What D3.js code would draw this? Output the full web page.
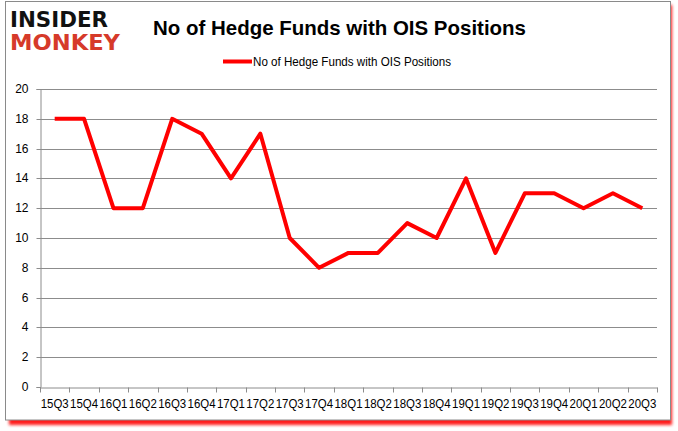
<!DOCTYPE html>
<html><head><meta charset="utf-8">
<script src="https://cdn.jsdelivr.net/npm/d3@7"></script>
<style>body{margin:0;background:#fff}svg{display:block}</style>
</head><body>
<svg id="c" width="678" height="431"></svg>
<script>
const categories = ["15Q3","15Q4","16Q1","16Q2","16Q3","16Q4","17Q1","17Q2","17Q3","17Q4","18Q1","18Q2","18Q3","18Q4","19Q1","19Q2","19Q3","19Q4","20Q1","20Q2","20Q3"];
const values = [18,18,12,12,18,17,14,17,10,8,9,9,11,10,14,9,13,13,12,13,12];
const yTicks = [0,2,4,6,8,10,12,14,16,18,20];
const seriesName = "No of Hedge Funds with OIS Positions";
const titleText = "No of Hedge Funds with OIS Positions";

const svg = d3.select("#c");
const font = "'Liberation Sans', Arial, sans-serif";

// shadow + frame
const defs = svg.append("defs");
const f = defs.append("filter").attr("id","blur").attr("x","-5%").attr("y","-5%").attr("width","110%").attr("height","110%");
f.append("feGaussianBlur").attr("stdDeviation",1.5);
svg.append("rect").attr("x",9).attr("y",5).attr("width",663).attr("height",420).attr("fill","#ff1a1a").attr("filter","url(#blur)");
svg.append("rect").attr("x",5.5).attr("y",1.5).attr("width",665).attr("height",418.5).attr("fill","#fff").attr("stroke","#8a8a8a").attr("stroke-width",1);

const x = d3.scaleBand().domain(categories).range([40,657]);
const y = d3.scaleLinear().domain([0,20]).range([387,89]);

// gridlines
svg.append("g").selectAll("line").data(yTicks.filter(d=>d>0)).join("line")
  .attr("x1",40).attr("x2",657).attr("y1",d=>Math.round(y(d))+0.5).attr("y2",d=>Math.round(y(d))+0.5)
  .attr("stroke","#8c8c8c").attr("stroke-width",1);

// y axis
const yAxis = svg.append("g").attr("transform","translate(40.5,0)")
  .call(d3.axisLeft(y).tickValues(yTicks).tickSize(4).tickPadding(8));
yAxis.select(".domain").attr("stroke","#8c8c8c");
yAxis.selectAll(".tick line").attr("stroke","#8c8c8c");
yAxis.selectAll(".tick").attr("transform",d=>`translate(0,${Math.round(y(d))+0.5})`);
yAxis.selectAll("text").attr("font-family",font).attr("font-size",12).attr("fill","#000");

// x axis
const xAxis = svg.append("g").attr("transform","translate(0,387.5)")
  .call(d3.axisBottom(x).tickSize(0).tickPadding(12));
xAxis.select(".domain").attr("stroke","#8c8c8c");
xAxis.selectAll("text").attr("font-family",font).attr("font-size",12).attr("fill","#000")
  .attr("textLength",28).attr("lengthAdjust","spacingAndGlyphs");
const bounds = categories.map(c=>x(c)).concat([x.range()[1]]);
xAxis.selectAll(".bt").data(bounds).join("line").attr("class","bt")
  .attr("x1",d=>Math.round(d)+0.5).attr("x2",d=>Math.round(d)+0.5).attr("y1",0).attr("y2",5)
  .attr("stroke","#8c8c8c");

// line
const line = d3.line().x((d,i)=>x(categories[i])+x.bandwidth()/2).y(d=>y(d));
svg.append("path").datum(values).attr("d",line).attr("fill","none")
  .attr("stroke","#ff0000").attr("stroke-width",4).attr("stroke-linejoin","round");

// title
svg.append("text").attr("x",153).attr("y",35).text(titleText)
  .attr("font-family",font).attr("font-weight","bold").attr("font-size",21)
  .attr("textLength",373).attr("lengthAdjust","spacingAndGlyphs").attr("fill","#000");

// legend
svg.append("line").attr("x1",223).attr("x2",252).attr("y1",61.5).attr("y2",61.5)
  .attr("stroke","#ff0000").attr("stroke-width",4);
svg.append("text").attr("x",253).attr("y",65.5).text(seriesName)
  .attr("font-family",font).attr("font-size",12).attr("textLength",198).attr("lengthAdjust","spacingAndGlyphs").attr("fill","#000");

// logo
svg.append("text").attr("x",10).attr("y",27).text("INSIDER")
  .attr("font-family","'DejaVu Sans', sans-serif").attr("font-weight","bold").attr("font-size",22)
  .attr("textLength",98).attr("lengthAdjust","spacingAndGlyphs").attr("fill","#111");
svg.append("text").attr("x",10).attr("y",50).text("MONKEY")
  .attr("font-family","'DejaVu Sans', sans-serif").attr("font-weight","bold").attr("font-size",22)
  .attr("textLength",110).attr("lengthAdjust","spacingAndGlyphs").attr("fill","#d63a2a");
</script>
</body></html>
